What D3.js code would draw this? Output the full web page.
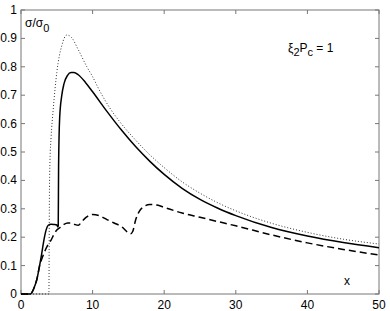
<!DOCTYPE html>
<html>
<head>
<meta charset="utf-8">
<script src="https://cdn.jsdelivr.net/npm/d3@7/dist/d3.min.js"></script>
<style>
  body { margin: 0; background: #fff; }
  svg text { font-family: "Liberation Sans", Arial, sans-serif; font-size: 12px; fill: #000; }
</style>
</head>
<body>
<svg id="chart" width="390" height="311"></svg>
<script>
// data
var xTicks = [0, 10, 20, 30, 40, 50];
var yTicks = [0, 0.1, 0.2, 0.3, 0.4, 0.5, 0.6, 0.7, 0.8, 0.9, 1];

var solidX = [0, 1.3, 1.8, 2.2, 2.6, 2.9, 3.2, 3.5, 3.8, 4.2, 4.6, 5.0, 5.15, 5.2, 5.25, 5.4, 5.7, 6.0, 6.5, 7.0, 7.4, 8, 9, 10, 12, 14, 16, 18, 20, 22.5, 25, 27.5, 30, 35, 40, 45, 50];
var solidY = [0, 0, 0.02, 0.05, 0.1, 0.143, 0.19, 0.225, 0.242, 0.246, 0.245, 0.243, 0.236, 0.24, 0.45, 0.62, 0.70, 0.74, 0.77, 0.78, 0.78, 0.772, 0.745, 0.712, 0.643, 0.578, 0.519, 0.467, 0.421, 0.372, 0.333, 0.302, 0.276, 0.234, 0.204, 0.181, 0.163];

var dottedX = [0, 3.9, 3.93, 3.97, 4.05, 4.2, 4.5, 5.0, 5.7, 6.4, 7, 8, 9.2, 10, 11, 12.4, 14, 16, 18, 20, 22.5, 25, 27.5, 30, 35, 40, 45, 50];
var dottedY = [0, 0, 0.15, 0.35, 0.47, 0.55, 0.65, 0.78, 0.875, 0.912, 0.905, 0.86, 0.80, 0.765, 0.715, 0.655, 0.60, 0.542, 0.49, 0.445, 0.395, 0.355, 0.321, 0.293, 0.249, 0.217, 0.193, 0.176];

var dashedX = [0, 1.3, 1.8, 2.2, 2.6, 3.0, 3.4, 3.8, 4.2, 4.6, 5.0, 5.5, 6.0, 6.5, 7.0, 7.5, 8.0, 8.5, 9.0, 9.5, 10, 11, 12, 13, 14, 15.3, 15.6, 16, 16.5, 17, 18, 19, 20, 22.5, 25, 27.5, 30, 35, 40, 45, 50];
var dashedY = [0, 0, 0.02, 0.05, 0.1, 0.13, 0.155, 0.175, 0.19, 0.21, 0.225, 0.235, 0.245, 0.25, 0.25, 0.245, 0.242, 0.255, 0.268, 0.276, 0.28, 0.275, 0.262, 0.25, 0.238, 0.212, 0.22, 0.26, 0.29, 0.305, 0.315, 0.313, 0.305, 0.285, 0.27, 0.255, 0.24, 0.208, 0.18, 0.157, 0.137];

var svg = d3.select("#chart"),
    plotLeft = 21, plotRight = 379, plotTop = 10, plotBottom = 294,
    tickLen = 4,
    axisColor = "#777";

var x = d3.scaleLinear().domain([0, 50]).range([plotLeft, plotRight]);
var y = d3.scaleLinear().domain([0, 1]).range([plotBottom, plotTop]);

// ticks (inward, all four sides)
xTicks.forEach(function (t) {
    svg.append("line").attr("x1", x(t)).attr("x2", x(t)).attr("y1", plotBottom).attr("y2", plotBottom - tickLen)
        .attr("stroke", axisColor);
    svg.append("line").attr("x1", x(t)).attr("x2", x(t)).attr("y1", plotTop).attr("y2", plotTop + tickLen)
        .attr("stroke", axisColor);
    svg.append("text").attr("x", x(t)).attr("y", plotBottom + 15).attr("text-anchor", "middle").text(t);
});
yTicks.forEach(function (t) {
    svg.append("line").attr("x1", plotLeft).attr("x2", plotLeft + tickLen).attr("y1", y(t)).attr("y2", y(t))
        .attr("stroke", axisColor);
    svg.append("line").attr("x1", plotRight).attr("x2", plotRight - tickLen).attr("y1", y(t)).attr("y2", y(t))
        .attr("stroke", axisColor);
    svg.append("text").attr("x", plotLeft - 4).attr("y", y(t) + 4).attr("text-anchor", "end").text(t);
});

// box
svg.append("rect").attr("x", plotLeft).attr("y", plotTop)
    .attr("width", plotRight - plotLeft).attr("height", plotBottom - plotTop)
    .attr("fill", "none").attr("stroke", axisColor);

function pts(xs, ys) {
    return xs.map(function (v, i) { return [v, ys[i]]; });
}

var line = d3.line()
    .x(function (d) { return x(d[0]); })
    .y(function (d) { return y(d[1]); })
    .curve(d3.curveMonotoneX);

svg.append("path").datum(pts(dottedX, dottedY)).attr("d", line)
    .attr("fill", "none").attr("stroke", "#333").attr("stroke-width", 1)
    .attr("stroke-dasharray", "1,2");

svg.append("path").datum(pts(dashedX, dashedY)).attr("d", line)
    .attr("fill", "none").attr("stroke", "#000").attr("stroke-width", 1.5)
    .attr("stroke-dasharray", "7,4");

svg.append("path").datum(pts(solidX, solidY)).attr("d", line)
    .attr("fill", "none").attr("stroke", "#000").attr("stroke-width", 1.5);

// labels
var yl = svg.append("text").attr("x", 25).attr("y", 27);
yl.append("tspan").text("σ/σ");
yl.append("tspan").attr("dy", 5).attr("font-size", "11px").text("0");

var pl = svg.append("text").attr("x", 288).attr("y", 52);
pl.append("tspan").text("ξ");
pl.append("tspan").attr("dy", 4).attr("font-size", "11px").text("2");
pl.append("tspan").attr("dy", -4).text("P");
pl.append("tspan").attr("dy", 4).attr("font-size", "11px").text("c");
pl.append("tspan").attr("dy", -4).text(" = 1");

svg.append("text").attr("x", 347).attr("y", 285).attr("text-anchor", "middle").text("x");
</script>
</body>
</html>
